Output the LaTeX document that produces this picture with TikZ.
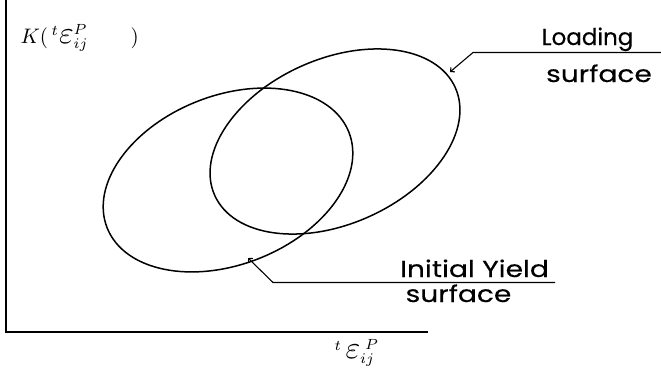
\documentclass[tikz,border=0pt]{standalone}
\usepackage{fontspec}
\usepackage{graphicx}
\usetikzlibrary{arrows.meta}
\newfontfamily\plotfont[FakeBold=0.4]{Poppins}
\newfontfamily\plotwide[FakeStretch=1.22,FakeBold=0.4]{Poppins}
\newcommand\biglbl[1]{\scalebox{2.1}{#1}}
\newcommand\bigeps{\scalebox{1.5}{$\varepsilon$}}
\begin{document}
\begin{tikzpicture}[x=1pt,y=1pt, line width=1.3pt,
  surf/.style={line width=1.5pt},
  lbl/.style={font=\plotwide\fontsize{23}{26}\selectfont,inner sep=0pt,anchor=base},
  mlbl/.style={inner sep=0pt,anchor=base west},
  leader/.style={line width=1.1pt,{Straight Barb[length=3pt,width=6pt]}-}]
\useasboundingbox (0,-384) rectangle (661,0);
% axes
\coordinate (o) at (6,-332);
\coordinate (ytop) at (6,0);
\coordinate (xend) at (428,-332);
\draw[line width=1.6pt] (ytop) -- (o) -- (xend);
% surfaces
\draw[surf,rotate around={21.6:(228,-180)}] (228,-180) ellipse (130 and 84.4);
\draw[surf,rotate around={24.1:(335,-141.5)}] (335,-141.5) ellipse (131.8 and 82.5);
% axis labels
\node[mlbl] (klbl) at (20,-43) {\biglbl{$K(\,{}^{t}\bigeps^{P}_{ij}\qquad)$}};
\node[mlbl] (elbl) at (334,-358) {\biglbl{${}^{t}\,\bigeps_{ij}^{\;P}$}};
% leaders
\coordinate (ltip) at (450,-72);
\coordinate (lknee) at (473,-52.5);
\coordinate (lend) at (661,-52.5);
\draw[leader] (ltip) -- (lknee) -- (lend);
\node[lbl,font=\plotfont\fontsize{23}{26}\selectfont] (load1) at (587.5,-45) {Loading};
\node[lbl] (load2) at (599,-82) {surface};
\coordinate (itip) at (248,-258);
\coordinate (iknee) at (273,-282.5);
\coordinate (iend) at (555,-282.5);
\draw[leader] (itip) -- (iknee) -- (iend);
\node[lbl] (init1) at (474.5,-277) {Initial Yield};
\node[lbl] (init2) at (458.5,-302) {surface};
\end{tikzpicture}
\end{document}
